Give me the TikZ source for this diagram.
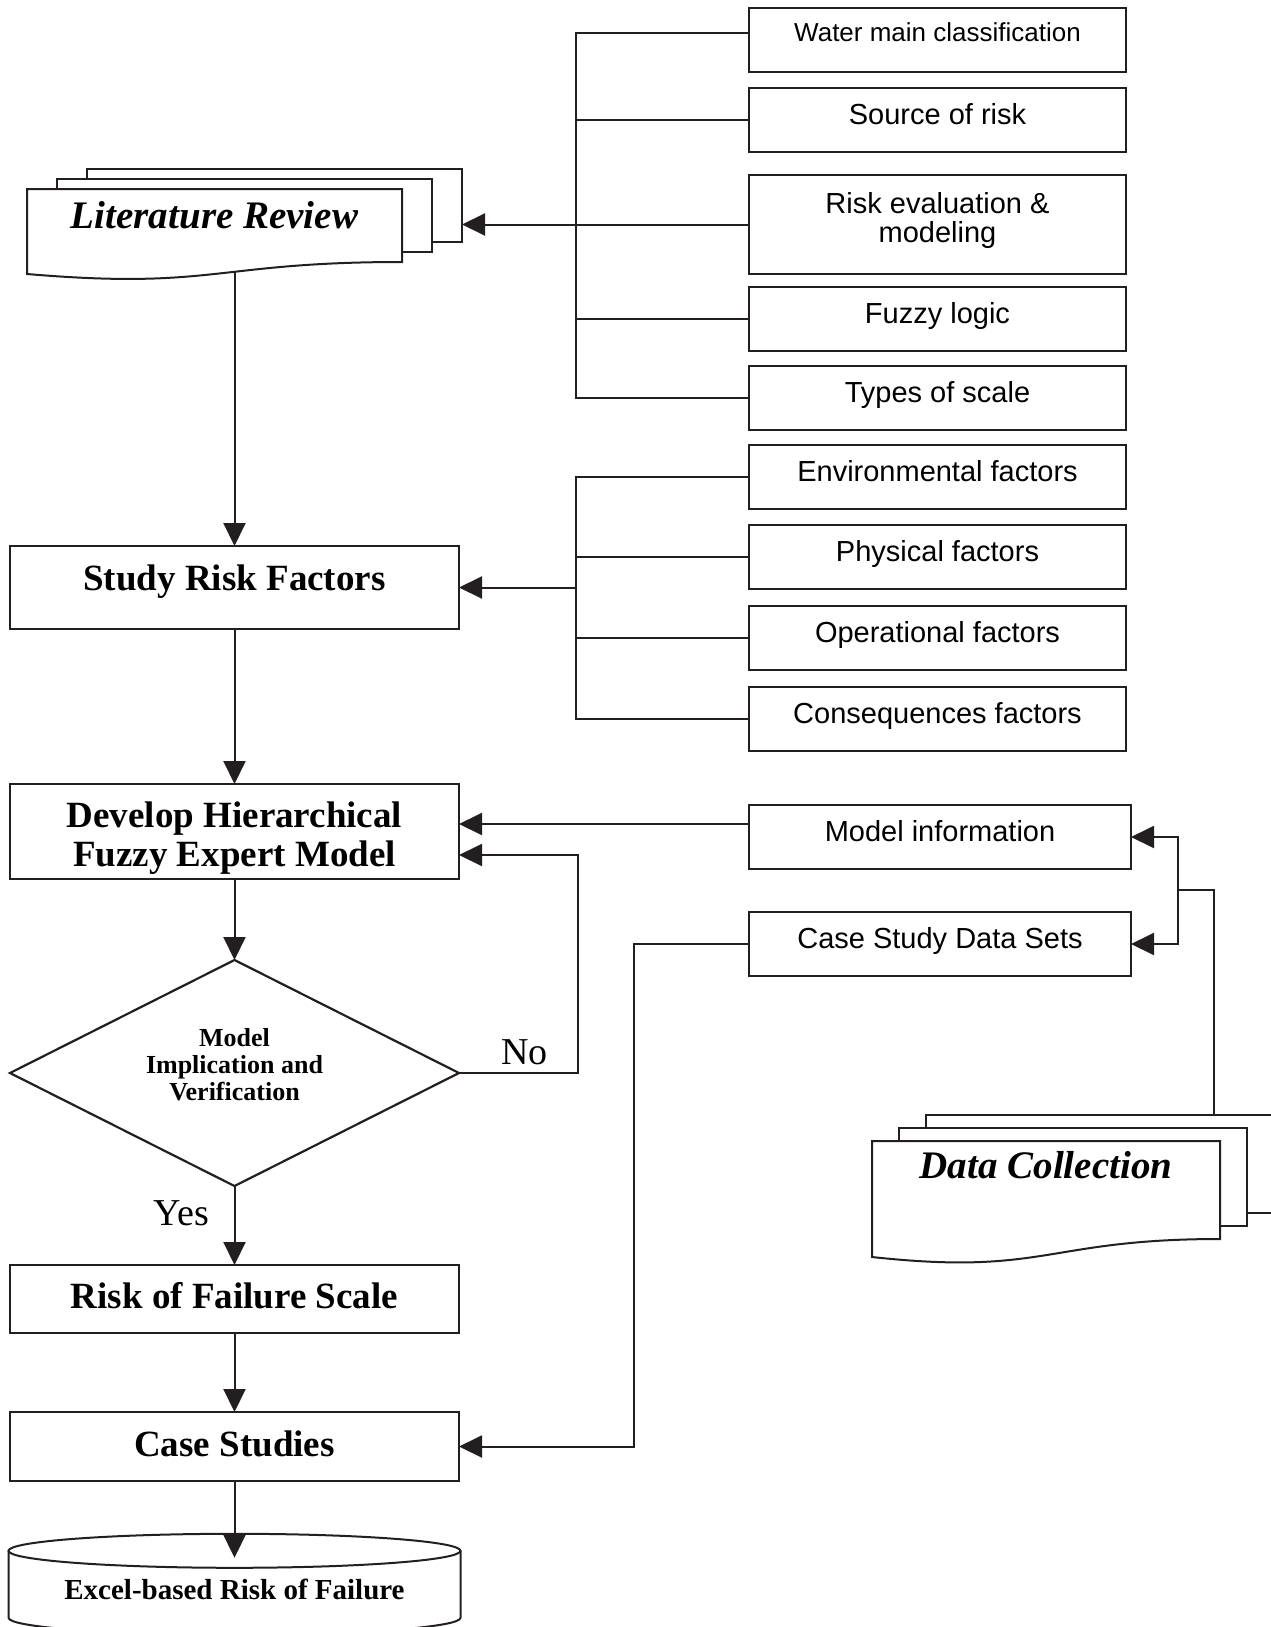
\documentclass[tikz,border=0pt]{standalone}
\usepackage{fontspec}
\setmainfont{Liberation Serif}
\newfontfamily\boxsans{Liberation Sans}
\usetikzlibrary{arrows.meta,calc,positioning,shapes.geometric}
\definecolor{Ink}{HTML}{231F20}

\begin{document}
\begin{tikzpicture}[
  stage/.style={
    draw=Ink,line width=1.1pt,minimum width=224.5pt,inner sep=0pt,outer sep=0pt,
    align=center,text height=12.6pt,text depth=3pt,
    font=\fontsize{18.5}{19.5}\selectfont\bfseries
  },
  item/.style={
    draw=Ink,line width=1.1pt,minimum width=188.5pt,minimum height=32pt,
    inner sep=0pt,outer sep=0pt,align=center,font=\boxsans\fontsize{14.5}{14.5}\selectfont
  },
  oneline/.style={text height=10.5pt,text depth=6pt},
  doc/.style={
    inner sep=0pt,outer sep=0pt,align=center,font=\fontsize{19.5}{20}\selectfont\bfseries\itshape
  },
  decision/.style={
    diamond,aspect=2,draw=Ink,line width=1.1pt,minimum width=224.5pt,
    minimum height=113pt,inner sep=0pt,outer sep=0pt,align=center,
    font=\fontsize{13}{13.5}\selectfont\bfseries
  },
  answer/.style={font=\fontsize{19}{19}\selectfont},
  link/.style={draw=Ink,line width=1pt},
  arr/.style={link,-{Triangle[length=11.5pt,width=11pt]}}
]
  \useasboundingbox (0,0) rectangle (635pt,-813.5pt);

  \node[doc,text height=19.5pt,text depth=17pt,minimum width=187.5pt] (litrev) at (107.25pt,-112.75pt) {Literature Review};
  \node[stage,minimum height=41.5pt,text depth=10pt] (study) at (117.25pt,-293.75pt) {Study Risk Factors};
  \node[stage,minimum height=47.5pt,text height=38.5pt,text depth=4pt,below=77.5pt of study] (develop) {Develop Hierarchical\\Fuzzy Expert Model};
  \node[decision,text depth=8.4pt,below=40.5pt of develop] (decide) {Model\\Implication and\\Verification};
  \node[stage,minimum height=34pt,below=39.5pt of decide] (scale) {Risk of Failure Scale};
  \node[stage,minimum height=34.5pt,below=39.5pt of scale] (case) {Case Studies};
  \node[font=\fontsize{14.5}{15}\selectfont\bfseries,inner sep=0pt,below=49pt of case] (excel) {Excel-based Risk of Failure};

  \node[item,oneline,text depth=9pt,font=\boxsans\fontsize{13}{13}\selectfont] (water) at (468.75pt,-20pt) {Water main classification};
  \node[item,oneline,below=8pt of water] (source) {Source of risk};
  \node[item,minimum height=49.5pt,text depth=7pt,below=11.5pt of source] (riskeval) {Risk evaluation \&\\modeling};
  \node[item,oneline,below=6.5pt of riskeval] (fuzzy) {Fuzzy logic};
  \node[item,oneline,below=7.5pt of fuzzy] (types) {Types of scale};
  \node[item,oneline,below=7.5pt of types] (env) {Environmental factors};
  \node[item,oneline,below=8pt of env] (phys) {Physical factors};
  \node[item,oneline,below=8.5pt of phys] (oper) {Operational factors};
  \node[item,oneline,below=8.5pt of oper] (cons) {Consequences factors};
  \node[item,oneline,minimum width=191pt,below=27pt of cons.south west,anchor=north west] (modelinfo) {Model information};
  \node[item,oneline,minimum width=191pt,below=21.5pt of modelinfo] (casedata) {Case Study Data Sets};

  \node[doc,text height=18.5pt,text depth=30.5pt,minimum width=174pt] (datacoll) at (523pt,-595pt) {Data Collection};

  \draw[link] ([xshift=15pt]litrev.north west) -- ([shift={(15pt,5pt)}]litrev.north west) -- ([shift={(15pt,5pt)}]litrev.north east) -- ([shift={(15pt,5pt)}]litrev.south east) -- ([yshift=5pt]litrev.south east);
  \draw[link] ([shift={(30pt,5pt)}]litrev.north west) -- ([shift={(30pt,10pt)}]litrev.north west) -- ([shift={(30pt,10pt)}]litrev.north east) -- ([shift={(30pt,10pt)}]litrev.south east) -- ([shift={(15pt,10pt)}]litrev.south east);
  \draw[link] (litrev.north west) -- (litrev.north east) -- (litrev.south east) .. controls (litrev.south) and ([yshift=-14pt]litrev.south) .. ([yshift=-6pt]litrev.south west) -- cycle;

  \draw[link] ([xshift=13.5pt]datacoll.north west) -- ([shift={(13.5pt,6.5pt)}]datacoll.north west) -- ([shift={(13.5pt,6.5pt)}]datacoll.north east) -- ([shift={(13.5pt,6.5pt)}]datacoll.south east) -- ([yshift=6.5pt]datacoll.south east);
  \draw[link] ([shift={(27pt,6.5pt)}]datacoll.north west) -- ([shift={(27pt,13pt)}]datacoll.north west) -- ([shift={(27pt,13pt)}]datacoll.north east) -- ([shift={(27pt,13pt)}]datacoll.south east) -- ([shift={(13.5pt,13pt)}]datacoll.south east);
  \draw[link] (datacoll.north west) -- (datacoll.north east) -- (datacoll.south east) .. controls (datacoll.south) and ([yshift=-18.5pt]datacoll.south) .. ([yshift=-9pt]datacoll.south west) -- cycle;

  \coordinate (dbtop) at ([yshift=19.5pt]excel.center);
  \draw[link] ([xshift=-113pt]dbtop) -- ++(0,-33.5pt) arc[start angle=180,end angle=360,x radius=113pt,y radius=8.5pt] -- ([xshift=113pt]dbtop);
  \draw[link] (dbtop) ellipse[x radius=113pt,y radius=8.5pt];

  \coordinate (litback) at ([xshift=30pt]litrev.east);
  \coordinate (busA) at ([xshift=-86.5pt]water.west);
  \coordinate (busB) at ([xshift=-86.5pt]env.west);
  \coordinate (mi) at ([yshift=6.5pt]modelinfo.west);
  \coordinate (dcout) at ([shift={(84pt,13pt)}]datacoll.north);

  \draw[link] ([yshift=3.5pt]water.west) -| (busA |- types.west) -- (types.west);
  \foreach \n in {source,fuzzy}
    \draw[link] (\n.west) -- (\n.west -| busA);
  \draw[arr] (riskeval.west) -- (riskeval.west -| litback);

  \draw[link] (env.west) -| (busB |- cons.west) -- (cons.west);
  \foreach \n in {phys,oper}
    \draw[link] (\n.west) -- (\n.west -| busB);
  \draw[arr] (busB |- study.east) -- (study.east);

  \draw[arr] ($(litrev.south -| study.north)+(0,-5pt)$) -- (study.north);
  \draw[arr] (study) -- (develop);
  \draw[arr] (develop) -- (decide);
  \draw[arr] (decide) -- node[answer,left,pos=0.35,xshift=-9pt] (yes) {Yes} (scale);
  \draw[arr] (scale) -- (case);
  \draw[arr] (case) -- ([yshift=-3.5pt]dbtop);
  \draw[arr] (decide.east) -- ++(59.5pt,0) node[answer,above,pos=0.55] (no) {No} |- ([yshift=-11.75pt]develop.east);
  \draw[arr] (mi) -- (mi -| develop.east);
  \draw[arr] (casedata.west) -- ++(-57.5pt,0) |- (case.east);

  \draw[link] (dcout) -- ++(0,112.5pt) -- ++(-18pt,0) coordinate (split);
  \draw[arr] (split) |- (modelinfo.east);
  \draw[arr] (split) |- (casedata.east);
\end{tikzpicture}
\end{document}
